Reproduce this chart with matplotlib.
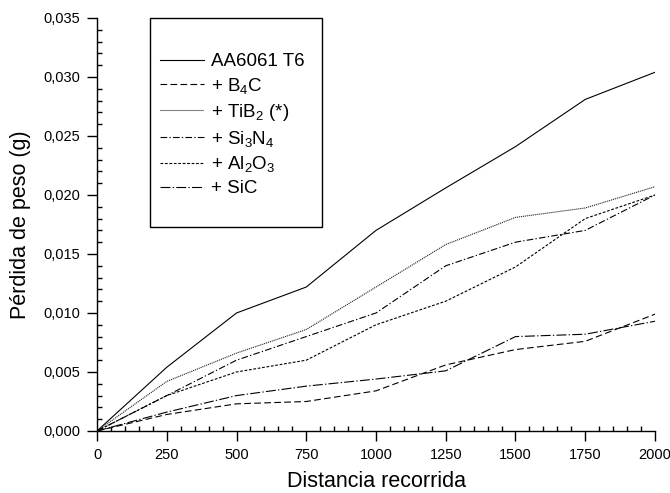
import numpy as np
import matplotlib
matplotlib.use('Agg')
from matplotlib import pyplot as plt
from matplotlib.patches import Rectangle
from matplotlib.ticker import MultipleLocator, FuncFormatter

plt.rcParams['font.family'] = ['Liberation Sans', 'DejaVu Sans']
plt.rcParams['mathtext.fontset'] = 'custom'
plt.rcParams['mathtext.rm'] = 'Liberation Sans'
plt.rcParams['mathtext.it'] = 'Liberation Sans'

# datos
distancia = [0, 250, 500, 750, 1000, 1250, 1500, 1750, 2000]
aa6061 = [0, 0.0054, 0.0100, 0.0122, 0.0170, 0.0206, 0.0241, 0.0281, 0.0304]
b4c = [0, 0.0014, 0.0023, 0.0025, 0.0034, 0.0056, 0.0069, 0.0076, 0.0099]
tib2 = [0, 0.0042, 0.0066, 0.0086, 0.0122, 0.0158, 0.0181, 0.0189, 0.0207]
si3n4 = [0, 0.0030, 0.0060, 0.0080, 0.0100, 0.0140, 0.0160, 0.0170, 0.0200]
al2o3 = [0, 0.0030, 0.0050, 0.0060, 0.0090, 0.0110, 0.0139, 0.0180, 0.0200]
sic = [0, 0.0016, 0.0030, 0.0038, 0.0044, 0.0051, 0.0080, 0.0082, 0.0093]

etiquetas = ['AA6061 T6', r'+ B$_4$C', r'+ TiB$_2$ (*)', r'+ Si$_3$N$_4$',
             r'+ Al$_2$O$_3$', '+ SiC']

fig = plt.figure(figsize=(6.7, 4.93), dpi=100)
ax = fig.add_axes([0.1448, 0.1258, 0.8328, 0.8377])

lw = 0.8
ax.plot(distancia, aa6061, color='black', lw=lw, linestyle='-', label=etiquetas[0])
ax.plot(distancia, b4c, color='black', lw=lw, linestyle=(0, (6, 3)), label=etiquetas[1])
ax.plot(distancia, tib2, color='#222222', lw=lw, linestyle=(0, (1, 0.8)), label=etiquetas[2])
ax.plot(distancia, si3n4, color='black', lw=lw, linestyle=(0, (6, 2, 1.2, 2)), label=etiquetas[3])
ax.plot(distancia, al2o3, color='black', lw=lw, linestyle=(0, (2.5, 1.5)), label=etiquetas[4])
ax.plot(distancia, sic, color='black', lw=lw, linestyle=(0, (9, 2, 1.2, 2)), label=etiquetas[5])

ax.set_xlim(0, 2000)
ax.set_ylim(0, 0.035)
ax.xaxis.set_major_locator(MultipleLocator(250))
ax.xaxis.set_minor_locator(MultipleLocator(50))
ax.yaxis.set_major_locator(MultipleLocator(0.005))
ax.yaxis.set_minor_locator(MultipleLocator(0.001))
ax.yaxis.set_major_formatter(FuncFormatter(lambda v, p: ('%.3f' % v).replace('.', ',')))

ax.spines['top'].set_visible(False)
ax.spines['right'].set_visible(False)
ax.spines['left'].set_linewidth(1.0)
ax.spines['bottom'].set_linewidth(1.0)
ax.tick_params(which='major', direction='out', length=7, width=1.0, labelsize=10.5, pad=5)
ax.tick_params(which='minor', direction='in', length=3.5, width=1.0)

ax.set_xlabel('Distancia recorrida', fontsize=15.5, labelpad=7)
ax.set_ylabel('Pérdida de peso (g)', fontsize=15.5, labelpad=9)

# marco de la leyenda
ax.add_patch(Rectangle((0.095, 0.494), 0.308, 0.506, transform=ax.transAxes,
                       facecolor='white', edgecolor='black', lw=1.0,
                       clip_on=False, zorder=4))
leg = ax.legend(loc='upper left', bbox_to_anchor=(0.112, 0.915), borderaxespad=0,
                fontsize=13.5, handlelength=2.35, labelspacing=0.31, borderpad=0,
                handletextpad=0.37, frameon=False)
leg.set_zorder(5)

plt.savefig('out.png', dpi=100)
